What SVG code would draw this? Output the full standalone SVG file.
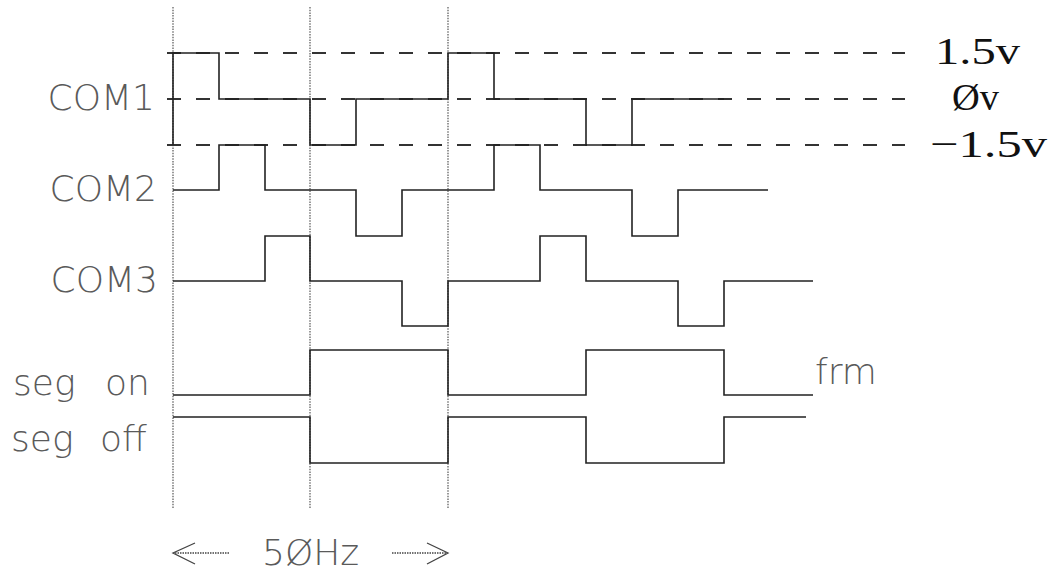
<svg xmlns="http://www.w3.org/2000/svg" width="1055" height="576" viewBox="0 0 1055 576">
<style>
.grid{stroke:#555;stroke-width:1.2;stroke-dasharray:1.5 1.2;fill:none}
.lvl{stroke:#333;stroke-width:2;stroke-dasharray:14 15;fill:none}
.wave{stroke:#222;stroke-width:1.6;fill:none}
.lbl{font-family:"DejaVu Sans","Liberation Sans",sans-serif;font-weight:200;font-size:36px;fill:#5a5a5a}
.volt{font-family:"Liberation Serif","DejaVu Serif",serif;font-size:38px;fill:#111}
.arr{stroke:#444;stroke-width:1.3;fill:none}
.shaft{stroke:#444;stroke-width:1.3;stroke-dasharray:1.5 1;fill:none}
</style>
<rect width="1055" height="576" fill="#fff"/>
<g id="gridlines">
<line class="grid" x1="173" y1="7" x2="173" y2="508"/>
<line class="grid" x1="310" y1="7" x2="310" y2="508"/>
<line class="grid" x1="448" y1="7" x2="448" y2="508"/>
</g>
<g id="levels">
<line class="lvl" x1="167" y1="53" x2="905" y2="53"/>
<line class="lvl" x1="167" y1="99" x2="905" y2="99"/>
<line class="lvl" x1="167" y1="145" x2="905" y2="145"/>
</g>
<g id="connectors">
<path id="com1-wave" class="wave" d="M173,145 V53 H219 V99 H310 V145 H356 V99 H448 V53 H494 V99 H586 V145 H632 V99 H724"/>
<path id="com2-wave" class="wave" d="M173,190 H219 V145 H265 V190 H356 V236 H402 V190 H494 V145 H540 V190 H632 V236 H678 V190 H768"/>
<path id="com3-wave" class="wave" d="M173,281 H265 V236 H310 V281 H402 V326 H448 V281 H540 V236 H586 V281 H678 V326 H724 V281 H813"/>
<path id="segon-wave" class="wave" d="M173,395 H310 V350 H448 V395 H586 V350 H724 V395 H813"/>
<path id="segoff-wave" class="wave" d="M173,417 H310 V463 H448 V417 H586 V463 H724 V417 H806"/>
</g>
<g id="com1"><text class="lbl" x="155" y="110" text-anchor="end">COM1</text></g>
<g id="com2"><text class="lbl" x="157" y="201" text-anchor="end">COM2</text></g>
<g id="com3"><text class="lbl" x="158" y="292" text-anchor="end">COM3</text></g>
<g id="seg-on"><text class="lbl" x="13" y="395">seg <tspan x="105">on</tspan></text></g>
<g id="seg-off"><text class="lbl" x="11" y="451">seg <tspan x="100">off</tspan></text></g>
<g id="frm"><text class="lbl" x="815" y="384">frm</text></g>
<g id="v-high"><text class="volt" x="935" y="64" textLength="85" lengthAdjust="spacingAndGlyphs">1.5v</text></g>
<g id="v-zero"><text class="volt" x="952" y="110" textLength="47" lengthAdjust="spacingAndGlyphs">Øv</text></g>
<g id="v-low"><text class="volt" x="930" y="157" textLength="117" lengthAdjust="spacingAndGlyphs">−1.5v</text></g>
<g id="period">
<line class="shaft" x1="175" y1="553" x2="230" y2="553"/>
<polyline class="arr" points="195,543 173,553 195,564"/>
<line class="shaft" x1="392" y1="553" x2="446" y2="553"/>
<polyline class="arr" points="427,543 448,553 427,564"/>
<text class="lbl" x="262" y="565">5ØHz</text>
</g>
</svg>
